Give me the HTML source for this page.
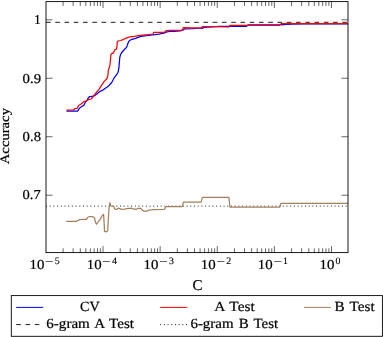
<!DOCTYPE html>
<html><head><meta charset="utf-8"><title>Accuracy vs C</title>
<style>html,body{margin:0;padding:0;background:#fff;width:383px;height:337px;overflow:hidden}svg{display:block}text{text-rendering:geometricPrecision}</style>
</head><body>
<svg width="383" height="337" viewBox="0 0 383 337">
<rect width="383" height="337" fill="#fff"/>
<defs><clipPath id="c"><rect x="46.0" y="1.6" width="302.0" height="251.0"/></clipPath></defs>
<g clip-path="url(#c)" fill="none" stroke-linejoin="round">
<line x1="46.0" y1="22.3" x2="348.0" y2="22.3" stroke="#000" stroke-width="0.9" stroke-dasharray="4.63 4.63"/>
<line x1="46.0" y1="206.1" x2="348.0" y2="206.1" stroke="#000" stroke-width="0.9" stroke-dasharray="0.95 2.75"/>
<polyline points="66.2,221.4 76.1,221.4 77.7,220.5 79.8,219.6 82.9,219.4 86.5,219.4 88.1,217.0 89.7,216.5 92.3,216.7 94.4,217.5 95.4,222.2 96.5,224.1 98.0,222.2 100.1,219.6 102.3,215.5 103.6,214.3 104.3,226.2 104.5,231.3 106.2,231.8 107.7,230.7 109.0,208.1 109.9,202.7 110.7,205.9 112.4,206.1 113.5,206.1 114.7,208.7 115.8,209.3 116.9,209.3 118.0,208.1 119.7,208.7 121.4,209.3 124.2,209.2 127.3,208.6 131.5,208.1 133.6,209.2 136.7,209.2 138.3,208.4 140.9,208.4 142.5,210.4 143.5,211.0 147.2,211.0 148.2,210.2 151.3,209.9 153.4,209.6 164.5,209.3 166.1,206.5 182.2,206.5 183.5,202.1 201.1,202.1 202.4,197.4 228.9,197.4 229.9,207.0 279.9,207.0 281.0,203.4 348.0,203.4" stroke="#a3805d" stroke-width="1.25"/>
<polyline points="66.5,111.1 77.6,111.1 79.7,107.9 81.8,106.5 84.0,105.1 85.4,102.2 87.2,100.1 88.2,98.0 89.7,96.5 91.5,96.4 93.2,96.2 95.4,95.1 98.0,92.9 99.8,91.5 103.6,89.6 108.3,86.3 111.7,82.5 114.0,78.2 116.4,74.9 118.0,72.5 118.8,68.7 119.2,64.4 119.8,57.3 120.6,54.5 121.4,53.0 123.0,51.0 124.7,49.2 126.7,47.1 127.6,44.2 128.7,41.4 130.1,40.3 132.0,39.3 135.6,38.4 140.0,36.6 143.0,36.1 148.0,35.3 153.0,34.9 158.9,34.2 164.7,33.0 166.8,31.9 170.0,31.5 174.0,31.3 180.2,30.8 183.5,29.9 184.5,28.9 192.9,28.6 200.4,28.0 202.3,28.3 204.2,27.5 212.0,27.0 219.0,26.3 228.5,26.3 229.8,26.3 246.5,26.3 248.0,24.9 279.0,24.9 292.0,24.2 304.0,24.0 348.0,23.8" stroke="#0000ff" stroke-width="1.25"/>
<polyline points="66.5,110.1 73.6,110.0 75.0,108.5 77.2,108.3 78.6,105.5 81.1,104.0 84.0,101.5 86.5,100.8 89.0,99.4 91.1,99.0 93.2,96.5 96.0,92.9 98.8,89.6 101.2,85.8 104.1,81.6 106.9,78.7 107.9,75.4 108.3,70.5 108.8,68.7 109.8,66.2 110.4,60.8 110.9,54.8 111.6,53.6 113.2,53.1 114.4,50.7 115.1,49.6 116.5,49.1 116.9,47.1 117.3,41.8 118.0,41.0 120.8,40.5 123.7,39.3 125.5,38.4 128.7,37.1 132.0,36.6 134.4,36.4 140.0,35.4 148.0,34.7 153.0,34.0 153.7,32.4 164.7,32.4 166.0,30.5 170.0,30.3 182.1,30.3 183.3,27.7 201.4,28.0 202.3,26.5 213.0,26.6 228.6,27.0 229.8,25.4 279.0,25.4 281.4,23.7 348.0,23.6" stroke="#ff0000" stroke-width="1.25"/>
</g>
<path d="M63.09,252.6v-4.3M63.09,1.6v4.3M73.15,252.6v-4.3M73.15,1.6v4.3M80.29,252.6v-4.3M80.29,1.6v4.3M85.83,252.6v-4.3M85.83,1.6v4.3M90.35,252.6v-4.3M90.35,1.6v4.3M94.17,252.6v-4.3M94.17,1.6v4.3M97.48,252.6v-4.3M97.48,1.6v4.3M100.41,252.6v-4.3M100.41,1.6v4.3M103.02,252.6v-6.5M103.02,1.6v6.5M120.21,252.6v-4.3M120.21,1.6v4.3M130.27,252.6v-4.3M130.27,1.6v4.3M137.41,252.6v-4.3M137.41,1.6v4.3M142.95,252.6v-4.3M142.95,1.6v4.3M147.47,252.6v-4.3M147.47,1.6v4.3M151.29,252.6v-4.3M151.29,1.6v4.3M154.60,252.6v-4.3M154.60,1.6v4.3M157.53,252.6v-4.3M157.53,1.6v4.3M160.14,252.6v-6.5M160.14,1.6v6.5M177.33,252.6v-4.3M177.33,1.6v4.3M187.39,252.6v-4.3M187.39,1.6v4.3M194.53,252.6v-4.3M194.53,1.6v4.3M200.07,252.6v-4.3M200.07,1.6v4.3M204.59,252.6v-4.3M204.59,1.6v4.3M208.41,252.6v-4.3M208.41,1.6v4.3M211.72,252.6v-4.3M211.72,1.6v4.3M214.65,252.6v-4.3M214.65,1.6v4.3M217.26,252.6v-6.5M217.26,1.6v6.5M234.45,252.6v-4.3M234.45,1.6v4.3M244.51,252.6v-4.3M244.51,1.6v4.3M251.65,252.6v-4.3M251.65,1.6v4.3M257.19,252.6v-4.3M257.19,1.6v4.3M261.71,252.6v-4.3M261.71,1.6v4.3M265.53,252.6v-4.3M265.53,1.6v4.3M268.84,252.6v-4.3M268.84,1.6v4.3M271.77,252.6v-4.3M271.77,1.6v4.3M274.38,252.6v-6.5M274.38,1.6v6.5M291.57,252.6v-4.3M291.57,1.6v4.3M301.63,252.6v-4.3M301.63,1.6v4.3M308.77,252.6v-4.3M308.77,1.6v4.3M314.31,252.6v-4.3M314.31,1.6v4.3M318.83,252.6v-4.3M318.83,1.6v4.3M322.65,252.6v-4.3M322.65,1.6v4.3M325.96,252.6v-4.3M325.96,1.6v4.3M328.89,252.6v-4.3M328.89,1.6v4.3M331.50,252.6v-6.5M331.50,1.6v6.5M46.0,19.80h6.5M348.0,19.80h-6.5M46.0,78.27h6.5M348.0,78.27h-6.5M46.0,136.74h6.5M348.0,136.74h-6.5M46.0,195.21h6.5M348.0,195.21h-6.5" stroke="#000" stroke-width="0.6" fill="none"/>
<rect x="46.0" y="1.6" width="302.0" height="251.0" fill="none" stroke="#000" stroke-width="0.9"/>
<rect x="11.3" y="295.6" width="371.1" height="40.7" fill="#fff" stroke="#000" stroke-width="0.9"/>
<text id="y1" x="33.91" y="24.00" font-family="Liberation Serif, serif" font-size="13.60" stroke="#000" stroke-width="0.2">1</text>
<text id="y09" x="22.64" y="83.00" font-family="Liberation Serif, serif" font-size="13.60" textLength="18.46" lengthAdjust="spacingAndGlyphs" stroke="#000" stroke-width="0.2">0.9</text>
<text id="y08" x="22.63" y="141.00" font-family="Liberation Serif, serif" font-size="13.60" textLength="18.37" lengthAdjust="spacingAndGlyphs" stroke="#000" stroke-width="0.2">0.8</text>
<text id="y07" x="22.55" y="199.00" font-family="Liberation Serif, serif" font-size="13.60" textLength="18.20" lengthAdjust="spacingAndGlyphs" stroke="#000" stroke-width="0.2">0.7</text>
<text id="x10_5" x="29.59" y="269.00" font-family="Liberation Serif, serif" font-size="13.70" textLength="14.85" lengthAdjust="spacingAndGlyphs" stroke="#000" stroke-width="0.2">10</text>
<text id="xm_5" x="45.13" y="265.00" font-family="Liberation Serif, serif" font-size="10.00" textLength="8.50" lengthAdjust="spacingAndGlyphs" stroke="#000" stroke-width="0.1">−</text>
<text id="xd_5" x="54.70" y="264.00" font-family="Liberation Serif, serif" font-size="9.90" stroke="#000" stroke-width="0.1">5</text>
<text id="x10_4" x="86.75" y="269.00" font-family="Liberation Serif, serif" font-size="13.70" textLength="14.85" lengthAdjust="spacingAndGlyphs" stroke="#000" stroke-width="0.2">10</text>
<text id="xm_4" x="102.09" y="265.00" font-family="Liberation Serif, serif" font-size="10.00" textLength="8.50" lengthAdjust="spacingAndGlyphs" stroke="#000" stroke-width="0.1">−</text>
<text id="xd_4" x="111.98" y="264.00" font-family="Liberation Serif, serif" font-size="9.90" stroke="#000" stroke-width="0.1">4</text>
<text id="x10_3" x="143.61" y="269.00" font-family="Liberation Serif, serif" font-size="13.70" textLength="14.85" lengthAdjust="spacingAndGlyphs" stroke="#000" stroke-width="0.2">10</text>
<text id="xm_3" x="159.28" y="265.00" font-family="Liberation Serif, serif" font-size="10.00" textLength="8.50" lengthAdjust="spacingAndGlyphs" stroke="#000" stroke-width="0.1">−</text>
<text id="xd_3" x="168.97" y="264.00" font-family="Liberation Serif, serif" font-size="9.90" stroke="#000" stroke-width="0.1">3</text>
<text id="x10_2" x="200.73" y="269.00" font-family="Liberation Serif, serif" font-size="13.70" textLength="14.85" lengthAdjust="spacingAndGlyphs" stroke="#000" stroke-width="0.2">10</text>
<text id="xm_2" x="216.49" y="265.00" font-family="Liberation Serif, serif" font-size="10.00" textLength="8.50" lengthAdjust="spacingAndGlyphs" stroke="#000" stroke-width="0.1">−</text>
<text id="xd_2" x="226.18" y="264.00" font-family="Liberation Serif, serif" font-size="9.90" stroke="#000" stroke-width="0.1">2</text>
<text id="x10_1" x="257.76" y="269.00" font-family="Liberation Serif, serif" font-size="13.70" textLength="14.85" lengthAdjust="spacingAndGlyphs" stroke="#000" stroke-width="0.2">10</text>
<text id="xm_1" x="273.48" y="265.00" font-family="Liberation Serif, serif" font-size="10.00" textLength="8.50" lengthAdjust="spacingAndGlyphs" stroke="#000" stroke-width="0.1">−</text>
<text id="xd_1" x="283.05" y="264.00" font-family="Liberation Serif, serif" font-size="9.90" stroke="#000" stroke-width="0.1">1</text>
<text id="x10_0" x="319.58" y="269.00" font-family="Liberation Serif, serif" font-size="13.70" textLength="14.85" lengthAdjust="spacingAndGlyphs" stroke="#000" stroke-width="0.2">10</text>
<text id="xs_0" x="335.52" y="264.00" font-family="Liberation Serif, serif" font-size="9.90" stroke="#000" stroke-width="0.1">0</text>
<text id="C" x="192.40" y="290.00" font-family="Liberation Serif, serif" font-size="15.06" stroke="#000" stroke-width="0.2">C</text>
<text id="acc" transform="translate(8.59,164.22) rotate(-90)" font-family="Liberation Serif, serif" font-size="13.01" textLength="56.20" lengthAdjust="spacingAndGlyphs" stroke="#000" stroke-width="0.2">Accuracy</text>
<text id="CV" x="80.11" y="311.00" font-family="Liberation Serif, serif" font-size="14.00" textLength="19.63" lengthAdjust="spacingAndGlyphs" stroke="#000" stroke-width="0.2">CV</text>
<text id="AT" x="214.17" y="311.00" font-family="Liberation Serif, serif" font-size="14.00" textLength="40.57" lengthAdjust="spacingAndGlyphs" stroke="#000" stroke-width="0.2" word-spacing="1.3">A Test</text>
<text id="BT" x="334.48" y="311.00" font-family="Liberation Serif, serif" font-size="14.00" textLength="40.17" lengthAdjust="spacingAndGlyphs" stroke="#000" stroke-width="0.2" word-spacing="1.3">B Test</text>
<text id="gA" x="46.29" y="328.00" font-family="Liberation Serif, serif" font-size="14.00" textLength="87.74" lengthAdjust="spacingAndGlyphs" stroke="#000" stroke-width="0.2" word-spacing="1.3">6-gram A Test</text>
<text id="gB" x="190.42" y="328.00" font-family="Liberation Serif, serif" font-size="14.00" textLength="87.83" lengthAdjust="spacingAndGlyphs" stroke="#000" stroke-width="0.2" word-spacing="1.3">6-gram B Test</text>
<line x1="16.2" y1="307.4" x2="43.2" y2="307.4" stroke="#0000ff" stroke-width="1.0"/>
<line x1="160.2" y1="307.4" x2="187.2" y2="307.4" stroke="#ff0000" stroke-width="1.0"/>
<line x1="303.9" y1="307.4" x2="330.9" y2="307.4" stroke="#a3805d" stroke-width="1.0"/>
<line x1="16.2" y1="324.6" x2="43.2" y2="324.6" stroke="#000" stroke-width="0.9" stroke-dasharray="4.63 4.63"/>
<line x1="160.2" y1="324.6" x2="187.2" y2="324.6" stroke="#000" stroke-width="0.9" stroke-dasharray="0.95 2.75"/>
</svg>
</body></html>
